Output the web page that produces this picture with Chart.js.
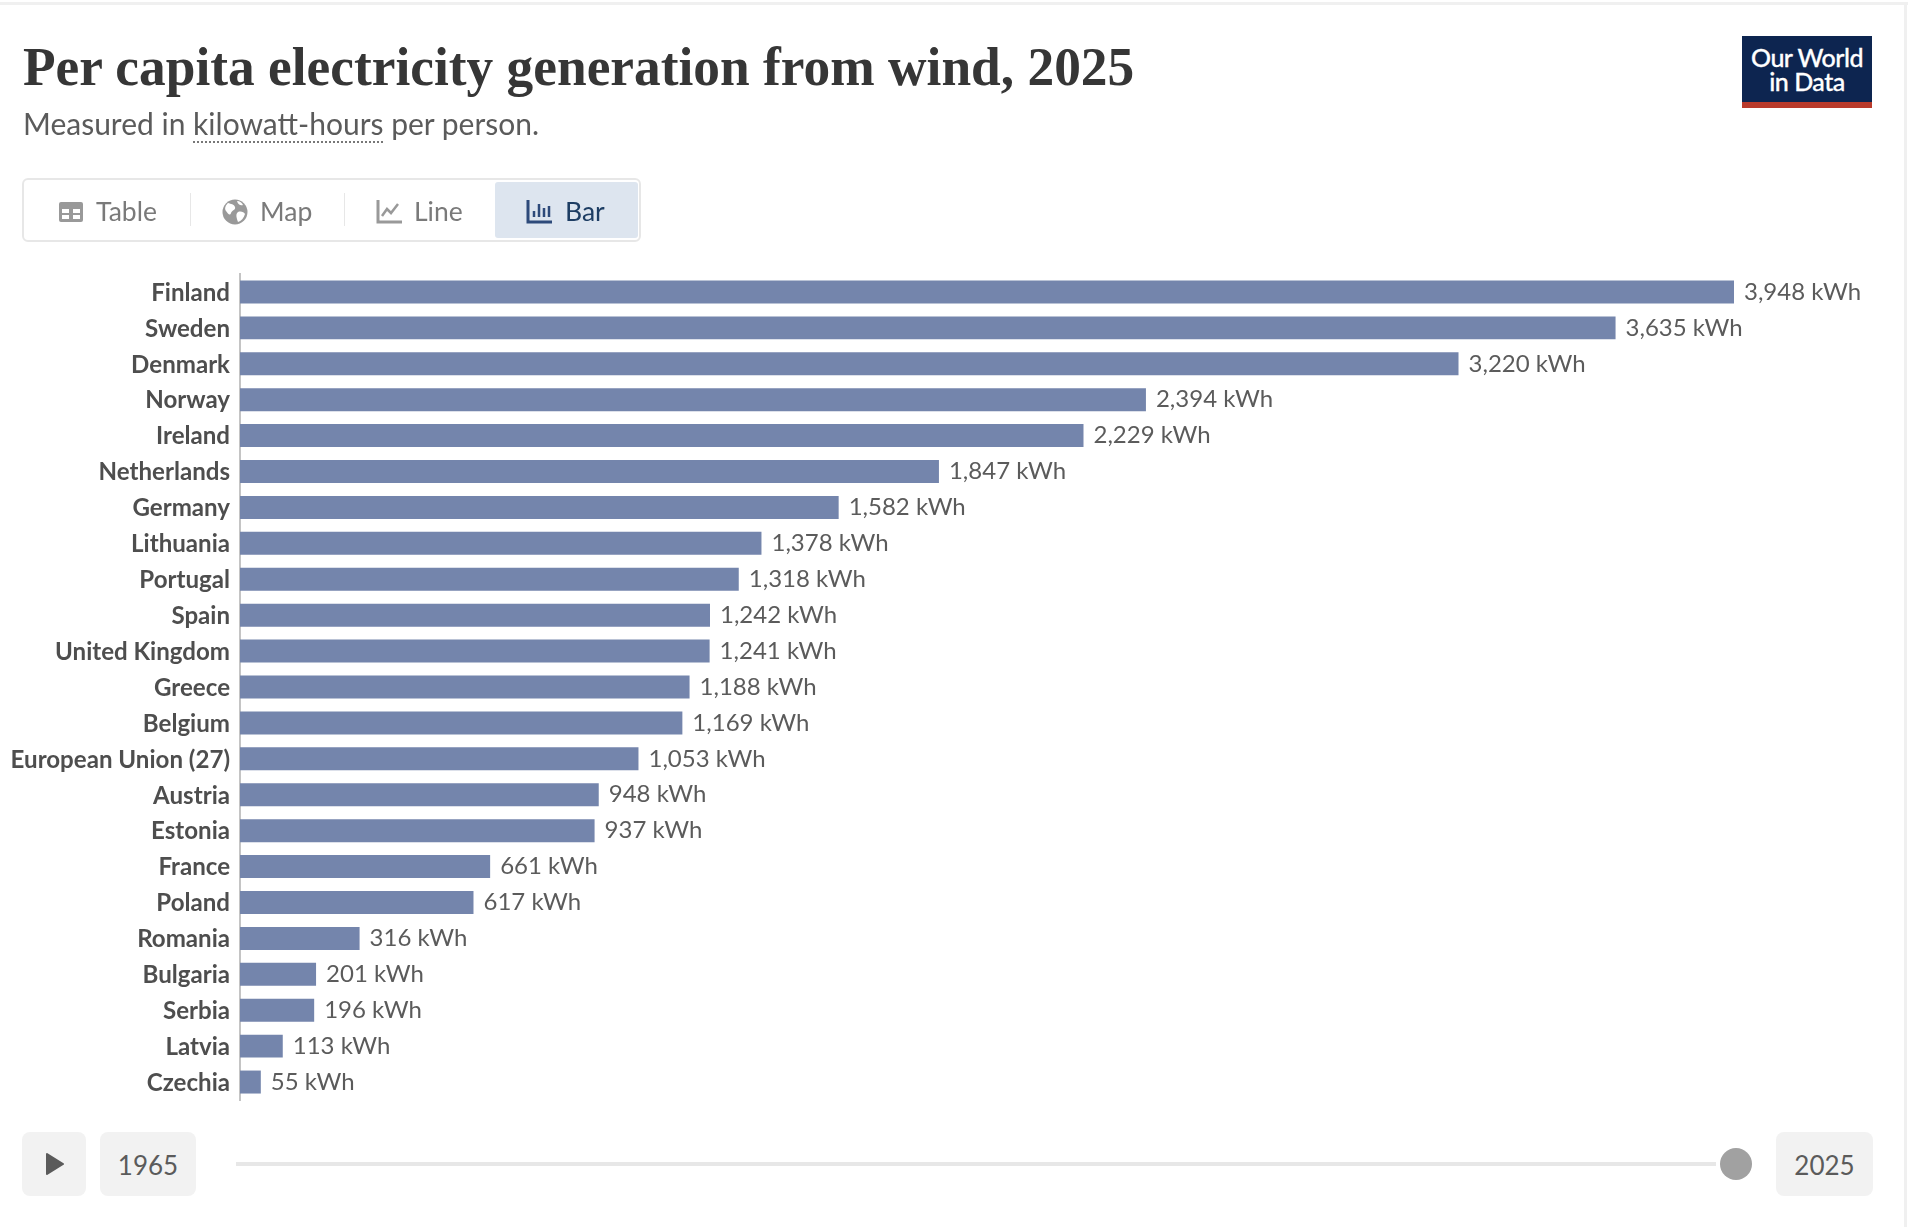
<!DOCTYPE html>
<html>
<head>
    <title>Per capita electricity generation from wind, 2025</title>
    <script src="https://cdn.jsdelivr.net/npm/chart.js"></script>
    <style>
        html, body { margin: 0; background: #fff; }
        body { width: 1908px; height: 1227px; position: relative; overflow: hidden; font-family: Lato, sans-serif; color: #5b5b5b; }
        #chart { position: absolute; left: 0; top: 0; }
        .abs { position: absolute; white-space: nowrap; }
        #topline { left: 0; top: 2px; width: 1908px; height: 3px; background: #f0f0f0; }
        #rightline { left: 1904px; top: 2px; width: 3px; height: 1225px; background: #f0f0f0; }
        #title { left: 23px; top: 35px; font: bold 54px/64px "Liberation Serif", serif; color: #363636; transform-origin: left center; }
        #subtitle { left: 23px; top: 104px; font-size: 30px; line-height: 38px; }
        #subtitle span { border-bottom: 2px dotted #777; }
        #logo { left: 1742px; top: 36px; width: 130px; height: 56px; background: #0d2550; border-bottom: 6px solid #b93a2b; color: #fff; text-align: center; font-size: 25px; font-weight: 500; line-height: 24px; letter-spacing: -0.5px; padding-top: 9px; height: 57px; -webkit-text-stroke: 0.3px #fff; }
        #tabs { left: 22px; top: 178px; width: 619px; height: 64px; box-sizing: border-box; border: 2px solid #e7e7e7; border-radius: 6px; }
        #active { left: 495px; top: 182px; width: 143px; height: 56px; background: #dde5ef; border-radius: 3px; }
        .sep { top: 193px; width: 1px; height: 33px; background: #e7e7e7; }
        .tab { top: 194px; font-size: 26.5px; line-height: 34px; color: #7a7a7a; }
        .icon { position: absolute; top: 199px; width: 26px; height: 26px; }
        .box { top: 1132px; height: 64px; background: #f2f2f2; border-radius: 8px; text-align: center; line-height: 66px; font-size: 26px; }
        #track { left: 236px; top: 1162px; width: 1480px; height: 4px; background: #e7e7e7; }
        #knob { left: 1720px; top: 1148px; width: 32px; height: 32px; border-radius: 50%; background: #a1a1a1; }
    </style>
</head>
<body>
    <canvas id="chart" width="1908" height="1227"></canvas>

    <div class="abs" id="topline"></div>
    <div class="abs" id="rightline"></div>
    <div class="abs" id="title">Per capita electricity generation from wind, 2025</div>
    <div class="abs" id="subtitle">Measured in <span>kilowatt-hours</span> per person.</div>
    <div class="abs" id="logo">Our World<br>in Data</div>

    <div class="abs" id="tabs"></div>
    <div class="abs" id="active"></div>
    <div class="abs sep" style="left:190px"></div>
    <div class="abs sep" style="left:344px"></div>
    <svg class="icon" style="left:58px" viewBox="0 0 26 26"><path fill="#999" d="M3 3h20a2 2 0 0 1 2 2v16a2 2 0 0 1-2 2H3a2 2 0 0 1-2-2V5a2 2 0 0 1 2-2zm1 7v4h7v-4zm11 0v4h7v-4zM4 16v4h7v-4zm11 0v4h7v-4z" fill-rule="evenodd"/></svg>
    <div class="abs tab" style="left:96px">Table</div>
    <svg class="icon" style="left:222px" viewBox="0 0 26 26"><circle cx="13" cy="13" r="12.5" fill="#999"/><path fill="#fff" d="M6 4c3 1 6 1 7 4s-3 3-4 6-3 1-5-2 0-6 2-8zm10 9c3-1 6 0 7 2-1 4-4 7-7 8-1-3-3-8 0-10zM15 2c3 0 5 2 6 4-2 1-5 0-6-4z"/></svg>
    <div class="abs tab" style="left:260px">Map</div>
    <svg class="icon" style="left:376px" viewBox="0 0 26 26"><path fill="none" stroke="#999" stroke-width="3" d="M2 1v22h24"/><path fill="none" stroke="#999" stroke-width="2.5" d="M6 17l5-7 4 4 7-9"/></svg>
    <div class="abs tab" style="left:414px">Line</div>
    <svg class="icon" style="left:526px" viewBox="0 0 26 26"><path fill="none" stroke="#2d4a7a" stroke-width="3" d="M2 1v22h24"/><path fill="none" stroke="#2d4a7a" stroke-width="2.5" d="M8 18v-6M13 18V5M18 18V9M23 18V7"/></svg>
    <div class="abs tab" style="left:565px;color:#1d3d63">Bar</div>

    <div class="abs box" style="left:22px;width:64px"><svg width="18" height="22" viewBox="0 0 18 22" style="margin-top:21px;display:block;margin-left:24px"><path fill="#5b5b5b" stroke="#5b5b5b" stroke-width="2" stroke-linejoin="round" d="M1 1l16 10L1 21z"/></svg></div>
    <div class="abs box" style="left:100px;width:96px">1965</div>
    <div class="abs" id="track"></div>
    <div class="abs" id="knob"></div>
    <div class="abs box" style="left:1776px;width:97px">2025</div>

    <script>
        const countries = ['Finland', 'Sweden', 'Denmark', 'Norway', 'Ireland', 'Netherlands', 'Germany', 'Lithuania',
            'Portugal', 'Spain', 'United Kingdom', 'Greece', 'Belgium', 'European Union (27)', 'Austria', 'Estonia',
            'France', 'Poland', 'Romania', 'Bulgaria', 'Serbia', 'Latvia', 'Czechia'];
        const kwhPerPerson = [3948, 3635, 3220, 2394, 2229, 1847, 1582, 1378, 1318, 1242, 1241, 1188, 1169, 1053,
            948, 937, 661, 617, 316, 201, 196, 113, 55];
        const unit = ' kWh';

        // le titre n'est pas en Playfair ici, on le cale sur la largeur d'origine
        const title = document.getElementById('title');
        title.style.transform = 'scaleX(' + (1111 / title.offsetWidth) + ')';

        // valeurs au bout des barres
        const valueLabels = {
            id: 'valueLabels',
            afterDatasetsDraw(c) {
                const ctx = c.ctx;
                ctx.save();
                ctx.font = '24px Lato';
                ctx.fillStyle = '#5b5b5b';
                ctx.textBaseline = 'middle';
                c.getDatasetMeta(0).data.forEach((bar, i) => {
                    ctx.fillText(kwhPerPerson[i].toLocaleString('en-US') + unit, bar.x + 10, bar.y);
                });
                ctx.restore();
            }
        };

        new Chart(document.getElementById('chart'), {
            type: 'bar',
            data: {
                labels: countries,
                datasets: [{
                    data: kwhPerPerson,
                    backgroundColor: '#7485ac',
                    barPercentage: 0.64,
                    categoryPercentage: 1
                }]
            },
            options: {
                indexAxis: 'y',
                responsive: false,
                animation: false,
                layout: { padding: { top: 274, right: 174, bottom: 127, left: 0 } },
                plugins: { legend: { display: false }, tooltip: { enabled: false } },
                scales: {
                    x: { display: false, min: 0, max: 3948 },
                    y: {
                        afterFit: s => { s.width = 240; },
                        border: { color: '#c4c4c4', width: 2 },
                        grid: { display: false, drawTicks: false },
                        ticks: { padding: 10, labelOffset: 1, color: '#4e4e4e', font: { family: 'Lato', size: 24.1, weight: 'bold' }, autoSkip: false }
                    }
                }
            },
            plugins: [valueLabels]
        });
    </script>
</body>
</html>
